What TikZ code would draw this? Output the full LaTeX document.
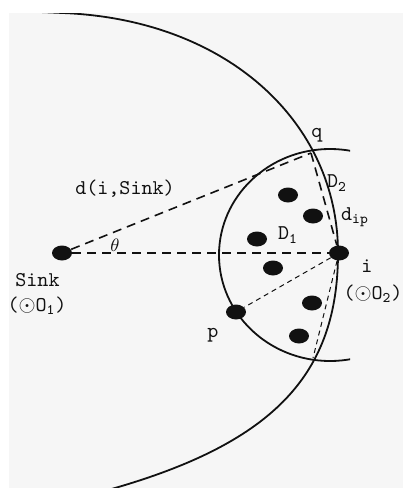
\documentclass[tikz,border=0pt]{standalone}
\usepackage{fontspec}
\usetikzlibrary{shapes.geometric}
\definecolor{paperbg}{HTML}{F6F6F6}
\definecolor{figink}{HTML}{111111}

\begin{document}
\begin{tikzpicture}[
  x=0.5pt,
  y=-0.5pt,
  every node/.style={font=\ttfamily\fontsize{10.5}{12}\selectfont, text=figink, inner sep=0pt},
  sensor/.style={ellipse, fill=figink, minimum width=10pt, minimum height=7.5pt, inner sep=0pt},
  bigdash/.style={figink, line width=0.8pt, dash pattern=on 4.5pt off 3pt},
  finedash/.style={figink, line width=0.5pt, dash pattern=on 2.5pt off 2pt},
  rim/.style={figink, line width=0.9pt}
]
  \useasboundingbox (0,0) rectangle (403,488);
  \fill[white] (0,0) rectangle (403,488);
  \fill[paperbg] (9,13) rectangle (403,488);

  % range of the sink
  \begin{scope}
    \clip (9,13) rectangle (403,488);
    \draw[rim] (40,12) -- (63,13) .. controls (228,19.6) and (338,123) .. (338,253)
      .. controls (338,373) and (275,441.6) .. (115,488) -- (80,498);
  \end{scope}

  % range of node i
  \begin{scope}
    \clip (200,140) rectangle (350,370);
    \draw[rim] (330,255) ellipse [x radius=111, y radius=106];
  \end{scope}

  \node[sensor] (sink) at (62,253) {};
  \node[sensor] (i) at (339,253) {};
  \node[sensor] (p) at (236,312) {};
  \coordinate (q) at (311,153);
  \coordinate (r) at (313,358);
  \foreach \x/\y [count=\k] in {288/195, 313/216, 257/239, 273/268, 312/303, 299/336}
    \node[sensor] (s\k) at (\x,\y) {};

  \draw[bigdash] (sink) -- (q);
  \draw[bigdash] (sink) -- (i);
  \draw[bigdash] (q) -- (i);
  \draw[finedash] (i) -- (p);
  \draw[finedash] (i) -- (r);

  \node (dsink) at (125,189) {d(i,Sink)};
  \node[font=\fontsize{9}{10}\selectfont] (theta) at (115,245) {$\theta$};
  \node (sinkname) at (37.5,280) {Sink};
  \node (sinko) at (37,306) {($\odot$O\textsubscript{1})};
  \node (qname) at (317,135) {q};
  \node (pname) at (213,335) {p};
  \node (iname) at (367,266) {i};
  \node (io) at (373,294) {($\odot$O\textsubscript{2})};
  \node (done) at (288,235) {D\textsubscript{1}};
  \node (dtwo) at (337,183) {D\textsubscript{2}};
  \node (dip) at (355,217) {d\textsubscript{ip}};
\end{tikzpicture}
\end{document}
